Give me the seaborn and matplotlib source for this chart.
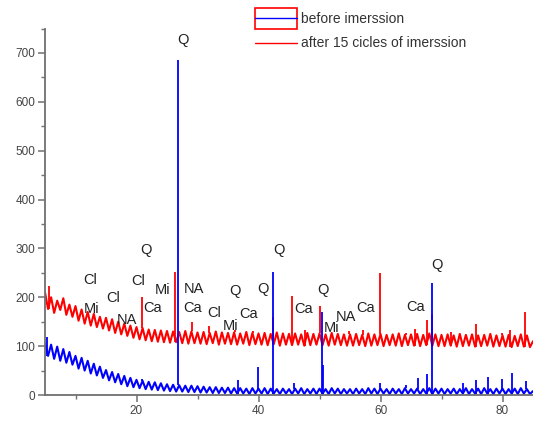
import numpy as np
import pandas as pd
import matplotlib
matplotlib.use("Agg")
import matplotlib.pyplot as plt
from matplotlib.lines import Line2D
from matplotlib.patches import Rectangle
import seaborn as sns

# ---------------- data ----------------
two_theta = np.arange(5.0, 85.01, 0.5)  # 161 sampling positions

before_bg = [
    106, 80, 103, 74, 99, 70, 94, 66, 88, 62,
    80, 54, 76, 50, 70, 44, 64, 40, 58, 35,
    51, 30, 47, 26, 43, 22, 39, 18, 35, 16,
    31, 14, 29, 12, 27, 11, 26, 10, 24, 9,
    22, 8, 21, 7, 20, 7, 19, 6, 19, 6,
    18, 5, 17, 5, 16, 4, 16, 4, 15, 4,
    15, 3, 14, 3, 14, 3, 13, 2, 14, 3,
    13, 3, 14, 2, 13, 3, 12, 2, 13, 3,
    12, 2, 13, 3, 14, 2, 12, 3, 13, 2,
    13, 3, 12, 2, 14, 3, 13, 2, 12, 3,
    12, 2, 13, 3, 12, 2, 14, 3, 13, 2,
    13, 3, 12, 2, 13, 3, 12, 2, 14, 3,
    12, 3, 13, 2, 12, 3, 14, 2, 13, 3,
    13, 2, 12, 3, 13, 2, 12, 3, 14, 2,
    12, 3, 13, 2, 14, 3, 12, 2, 13, 3,
    13, 2, 12, 3, 13, 2, 14, 3, 12, 2,
    8,
]
after_bg = [
    210, 176, 200, 168, 193, 174, 198, 164, 185, 160,
    182, 152, 175, 146, 170, 142, 166, 139, 160, 136,
    158, 132, 155, 127, 150, 124, 146, 121, 142, 117,
    139, 114, 137, 112, 134, 110, 133, 109, 132, 108,
    131, 107, 130, 108, 129, 106, 131, 105, 130, 106,
    128, 105, 129, 104, 127, 106, 130, 103, 128, 105,
    127, 104, 128, 103, 126, 105, 129, 102, 127, 104,
    126, 103, 127, 102, 125, 104, 128, 101, 126, 103,
    125, 102, 126, 103, 124, 101, 127, 102, 125, 103,
    126, 102, 124, 101, 127, 103, 125, 102, 124, 101,
    124, 101, 125, 102, 123, 100, 126, 101, 124, 102,
    125, 100, 123, 102, 124, 101, 126, 100, 123, 102,
    124, 101, 125, 100, 123, 102, 126, 101, 124, 100,
    123, 100, 124, 101, 122, 99, 125, 100, 123, 101,
    124, 99, 122, 100, 123, 101, 125, 99, 122, 100,
    122, 99, 123, 98, 121, 100, 124, 99, 122, 98,
    110,
]

before_peak_pos = [5.4, 20.85, 26.85, 36.6, 39.9, 42.45, 45.8, 50.4, 50.65,
                   59.95, 64.1, 66.1, 67.7, 68.45, 73.6, 75.6, 77.6, 79.9, 81.6, 83.8]
before_peak_int = [118, 32, 686, 30, 58, 252, 24, 170, 62,
                   24, 20, 34, 42, 230, 24, 30, 36, 32, 44, 28]

after_peak_pos = [5.6, 20.82, 26.35, 29.1, 31.9, 36.1, 39.05, 42.4, 45.55, 47.6,
                  50.1, 54.9, 57.1, 59.95, 64.1, 65.6, 67.6, 68.4, 71.6, 75.7,
                  79.9, 81.3, 83.7]
after_peak_int = [224, 200, 252, 150, 142, 134, 130, 160, 202, 132,
                  182, 130, 132, 250, 126, 136, 154, 165, 128, 146,
                  127, 134, 170]

label_before = "before imerssion"
label_after = "after 15 cicles of imerssion"

phase_labels = ["Q", "Cl", "Cl", "Mi", "Cl", "NA", "Ca", "Mi", "NA", "Ca", "Cl",
                "Q", "Mi", "Ca", "Q", "Q", "Ca", "Q", "Mi", "NA", "Ca", "Ca",
                "Q", "Q"]
phase_x = [21.5, 12.4, 20.2, 12.6, 16.2, 18.5, 22.6, 24.2, 29.4, 29.2, 32.8,
           36.1, 35.5, 38.4, 40.7, 43.3, 47.4, 50.5, 51.9, 54.3, 57.6, 65.7,
           69.3, 27.6]
phase_y = [296, 235, 234, 177, 198, 153, 178, 215, 217, 179, 167,
           212, 141, 165, 217, 296, 177, 215, 138, 160, 178, 180,
           267, 726]

# ---------------- build tables ----------------
bg_df = pd.concat([
    pd.DataFrame({"two_theta": two_theta, "intensity": after_bg, "sample": label_after}),
    pd.DataFrame({"two_theta": two_theta, "intensity": before_bg, "sample": label_before}),
], ignore_index=True)


def peak_base(bg, ppos):
    bg = np.asarray(bg, float)
    idx = [int(np.abs(two_theta - p).argmin()) for p in ppos]
    return bg[idx]


# ---------------- plot ----------------
sns.set_style("ticks")
plt.rcParams["font.family"] = ["Liberation Sans", "DejaVu Sans"]

fig = plt.figure(figsize=(5.33, 4.22), dpi=100)
ax = fig.add_axes([45 / 533, 27 / 422, 1 - 45 / 533, (395 - 28.5) / 422])

red, blue = "#ff0000", "#0000ff"
palette = {label_after: red, label_before: blue}

# after-immersion pattern (drawn first, below)
sns.lineplot(data=bg_df[bg_df["sample"] == label_after], x="two_theta", y="intensity",
             color=red, estimator=None, sort=False, linewidth=1.5, ax=ax)
ax.vlines(after_peak_pos, peak_base(after_bg, after_peak_pos), after_peak_int,
          color=red, linewidth=1.3)
# before-immersion pattern (on top)
sns.lineplot(data=bg_df[bg_df["sample"] == label_before], x="two_theta", y="intensity",
             color=blue, estimator=None, sort=False, linewidth=1.5, ax=ax)
ax.vlines(before_peak_pos, peak_base(before_bg, before_peak_pos), before_peak_int,
          color=blue, linewidth=1.3)

ax.set_xlim(5, 85)
ax.set_ylim(0, 750)
ax.set_xlabel("")
ax.set_ylabel("")
ax.set_xticks([20, 40, 60, 80])
ax.set_xticks([10, 30, 50, 70], minor=True)
ax.set_yticks(range(0, 701, 100))
ax.set_yticks(range(50, 751, 100), minor=True)

for s in ["top", "right"]:
    ax.spines[s].set_visible(False)
for s in ["left", "bottom"]:
    ax.spines[s].set_color("#707070")
    ax.spines[s].set_linewidth(1.3)
ax.tick_params(which="major", direction="out", length=5, width=1.1,
               color="#707070", labelsize=8.5, labelcolor="#444444", pad=2)
ax.tick_params(which="minor", direction="out", length=3, width=1.0, color="#707070")

for t, x, y in zip(phase_labels, phase_x, phase_y):
    ax.text(x, y, t, ha="center", va="center", fontsize=10.5, color="#222222")

handles = [Line2D([], [], color=blue, lw=1.0),
           Line2D([], [], color=red, lw=1.0)]
fig.legend(handles, [label_before, label_after], loc="upper left",
           bbox_to_anchor=(255 / 533, 1 - 12 / 422), frameon=False,
           fontsize=10, handlelength=3.0, handletextpad=0.3,
           labelspacing=0.75, borderpad=0, borderaxespad=0,
           labelcolor="#333333")
fig.add_artist(Rectangle((255 / 533, 1 - 29 / 422), 42 / 533, 21 / 422,
                         transform=fig.transFigure, fill=False,
                         edgecolor=red, linewidth=1.2))

fig.savefig("out.png", dpi=100)
